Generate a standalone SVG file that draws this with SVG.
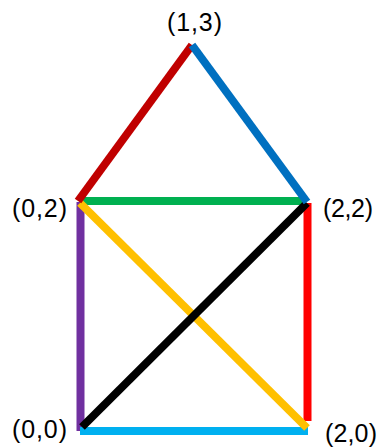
<svg xmlns="http://www.w3.org/2000/svg" width="381" height="448" viewBox="0 0 381 448">
<style>
.e{stroke-width:8;stroke-linecap:butt;fill:none}
.l{font-family:"Liberation Sans",Arial,sans-serif;font-size:25px;fill:#000}
</style>
<rect width="381" height="448" fill="#fff"/>
<g id="connectors">
<line class="e" x1="80.5" y1="202" x2="80.5" y2="431" stroke="#7030A0"/>
<line class="e" x1="307.5" y1="203" x2="307.5" y2="421" stroke="#FF0000"/>
<line class="e" x1="80" y1="431" x2="308" y2="431" stroke="#00B0F0"/>
<line class="e" x1="80" y1="201" x2="306" y2="201" stroke="#00B050"/>
<line class="e" x1="80" y1="203" x2="307" y2="428" stroke="#FFC000"/>
<line class="e" x1="82" y1="427" x2="307" y2="203" stroke="#000000"/>
<line class="e" x1="78" y1="201" x2="192" y2="45" stroke="#C00000"/>
<line class="e" x1="192" y1="45" x2="307" y2="202" stroke="#0070C0"/>
</g>
<g id="n13"><text class="l" x="167" y="31" textLength="55">(1,3)</text></g>
<g id="n02"><text class="l" x="12" y="217" textLength="55">(0,2)</text></g>
<g id="n22"><text class="l" x="323" y="217" textLength="50">(2,2)</text></g>
<g id="n00"><text class="l" x="12" y="438" textLength="55">(0,0)</text></g>
<g id="n20"><text class="l" x="325" y="442" textLength="52">(2,0)</text></g>
</svg>
